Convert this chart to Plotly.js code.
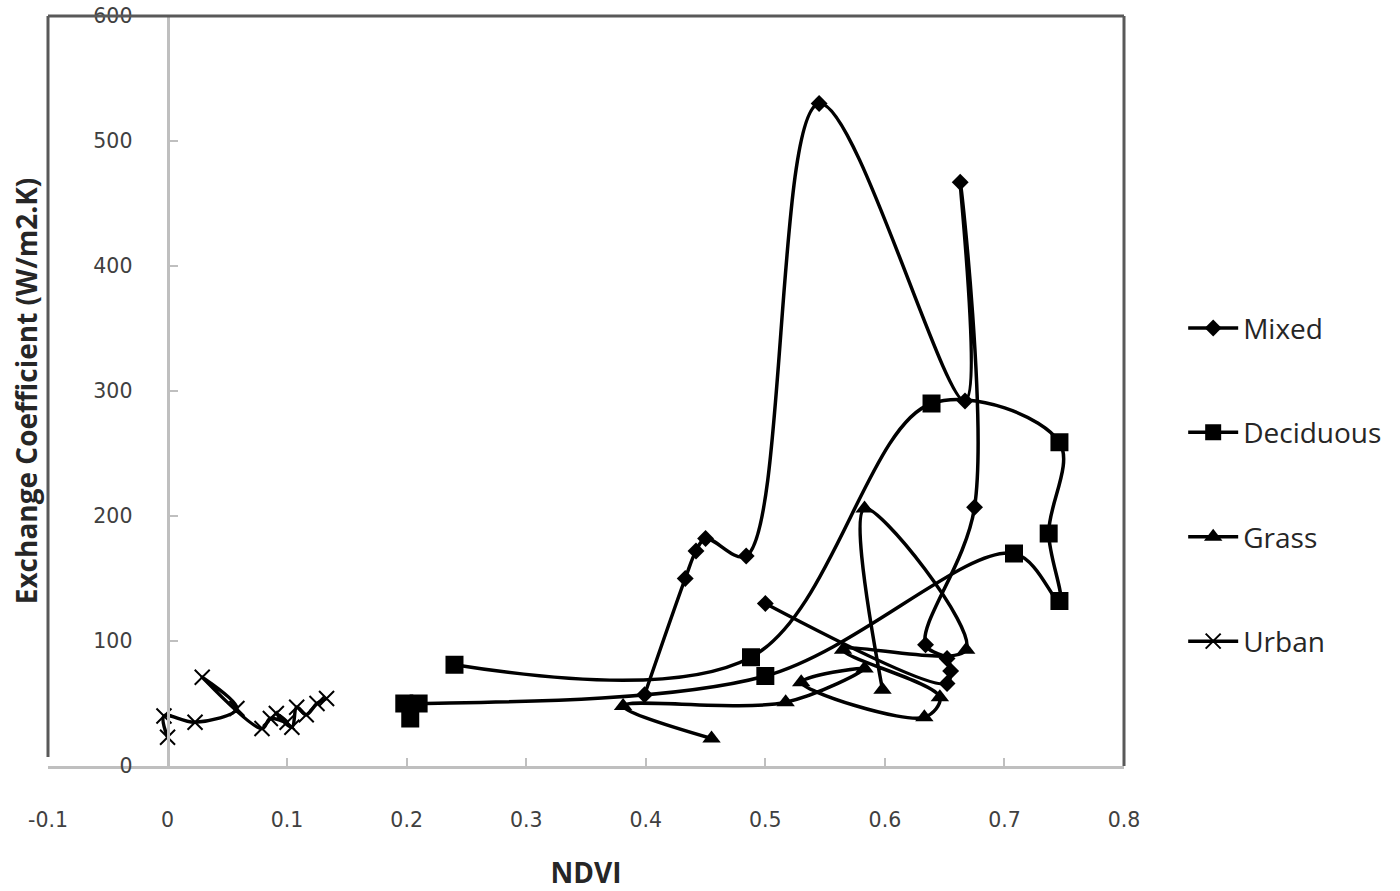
<!DOCTYPE html>
<html>
<head>
<meta charset="utf-8">
<script src="https://cdn.plot.ly/plotly-3.0.1.min.js"></script>
<style>html,body{margin:0;padding:0;background:#fff;}#chart{width:1400px;height:891px;}</style>
</head>
<body>
<div id="chart"></div>
<script>
// ---- data ----
const seriesNames = ["Mixed", "Deciduous", "Grass", "Urban"];

const mixedX = [0.399, 0.433, 0.442, 0.450, 0.484, 0.545, 0.667, 0.663, 0.675, 0.634, 0.652, 0.655, 0.652, 0.500];
const mixedY = [57, 150, 172, 182, 168, 530, 292, 467, 207, 97, 86, 76, 66, 130];

const deciduousX = [0.240, 0.488, 0.639, 0.746, 0.737, 0.746, 0.708, 0.500, 0.210, 0.198, 0.203];
const deciduousY = [81, 87, 290, 259, 186, 132, 170, 72, 50, 50, 38];

const grassX = [0.455, 0.381, 0.517, 0.583, 0.530, 0.633, 0.646, 0.565, 0.668, 0.583, 0.598];
const grassY = [22, 48, 51, 78, 67, 39, 55, 93, 93, 206, 61];

const urbanX = [0.000, -0.003, 0.023, 0.058, 0.029, 0.079, 0.086, 0.100, 0.091, 0.104, 0.108, 0.116, 0.125, 0.133];
const urbanY = [23, 40, 35, 46, 71, 30, 38, 35, 42, 31, 47, 41, 50, 54];

const xTickVals = [-0.1, 0, 0.1, 0.2, 0.3, 0.4, 0.5, 0.6, 0.7, 0.8];
const xTickText = ["-0.1", "0", "0.1", "0.2", "0.3", "0.4", "0.5", "0.6", "0.7", "0.8"];
const yTickVals = [0, 100, 200, 300, 400, 500, 600];
const yTickText = ["0", "100", "200", "300", "400", "500", "600"];

const xTitle = "NDVI";
const yTitle = "Exchange Coefficient (W/m2.K)";

// ---- styling ----
const lineStyle = {color: "#000", width: 3.5, shape: "spline", smoothing: 1};
function mk(name, x, y, marker, grp) {
  return {type: "scatter", mode: "lines+markers", name: name, x: x, y: y,
          legendgroup: grp, line: lineStyle, marker: marker, cliponaxis: false};
}
const traces = [
  mk(seriesNames[0], mixedX, mixedY, {symbol: "diamond", size: 13, color: "#000"}, "g1"),
  mk(seriesNames[1], deciduousX, deciduousY, {symbol: "square", size: 18, color: "#000"}, "g2"),
  mk(seriesNames[2], grassX, grassY, {symbol: "triangle-up", size: 16, color: "#000"}, "g3"),
  mk(seriesNames[3], urbanX, urbanY, {symbol: "x-thin", size: 15, color: "#000", line: {color: "#000", width: 2}}, "g4")
];

const axisGray = "#bfbfbf";
const frameGray = "#595959";
const tickFont = {family: "DejaVu Sans, Verdana, sans-serif", size: 20.5, color: "#404040"};
const titleFont = {family: "Open Sans, sans-serif", size: 28, color: "#262626", weight: "bold"};

const layout = {
  width: 1400, height: 891,
  margin: {l: 48, r: 276, t: 16, b: 125, pad: 0},
  paper_bgcolor: "#fff", plot_bgcolor: "#fff",
  showlegend: true,
  xaxis: {
    range: [-0.1, 0.8], tickmode: "array", tickvals: xTickVals, ticktext: xTickText,
    showgrid: false, zeroline: false, showline: true, linecolor: axisGray, linewidth: 3,
    ticks: "inside", ticklen: 8, tickwidth: 2, tickcolor: axisGray,
    tickfont: tickFont, ticklabelstandoff: 33,
    title: {text: xTitle, font: titleFont, standoff: 38},
    automargin: false, fixedrange: true
  },
  yaxis: {
    range: [0, 600], tickmode: "array", tickvals: yTickVals, ticktext: yTickText,
    anchor: "free", position: 0.1 / 0.9,
    showgrid: false, zeroline: false, showline: true, linecolor: axisGray, linewidth: 3,
    ticks: "inside", ticklen: 8, tickwidth: 2, tickcolor: axisGray,
    tickfont: tickFont, ticklabelstandoff: 30,
    title: {text: yTitle, font: titleFont, standoff: 46},
    automargin: false, fixedrange: true
  },
  legend: {
    x: 1.055, xanchor: "left", y: 0.617, yanchor: "top",
    font: {family: "Open Sans, sans-serif", size: 28, color: "#262626"},
    traceorder: "grouped", tracegroupgap: 65, itemwidth: 50,
    bgcolor: "rgba(0,0,0,0)", borderwidth: 0
  },
  shapes: [
    {type: "line", xref: "paper", yref: "paper", x0: 0, x1: 0, y0: 0.012, y1: 1, line: {color: frameGray, width: 3}},
    {type: "line", xref: "paper", yref: "paper", x0: 0, x1: 1, y0: 1, y1: 1, line: {color: frameGray, width: 3}},
    {type: "line", xref: "paper", yref: "paper", x0: 1, x1: 1, y0: 0, y1: 1, line: {color: frameGray, width: 3}}
  ]
};

Plotly.newPlot("chart", traces, layout, {displayModeBar: false, staticPlot: true});
</script>
</body>
</html>
